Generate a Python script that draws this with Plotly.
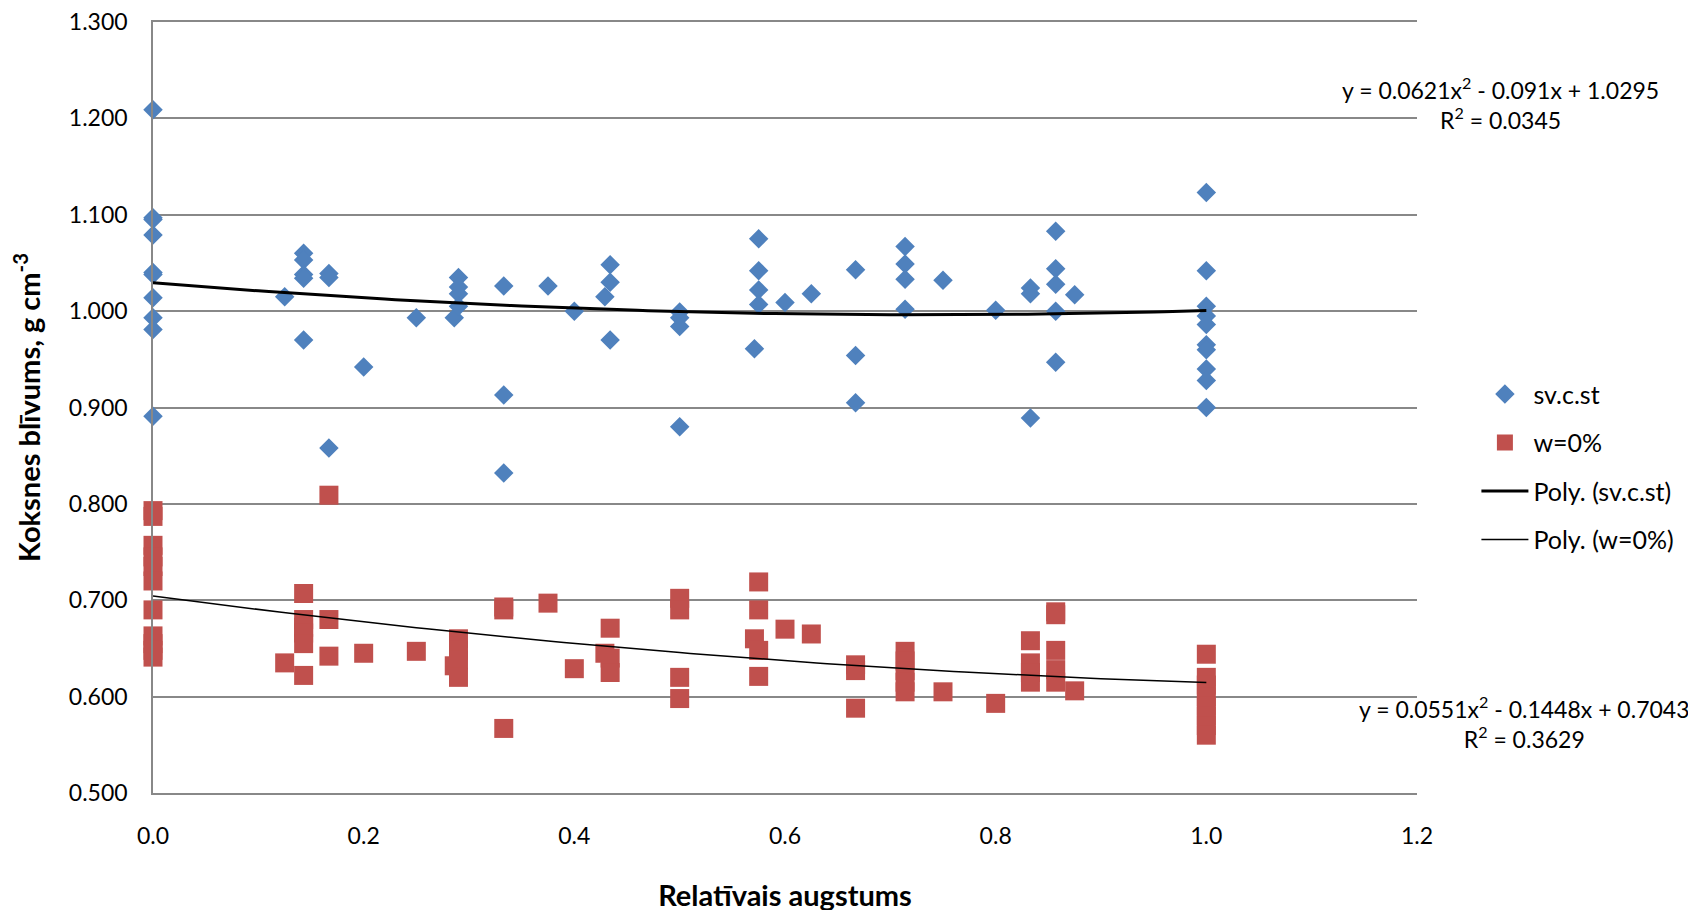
import numpy as np
import plotly.graph_objects as go

# ---- data ----
sv_x = [0, 0, 0, 0, 0, 0, 0, 0, 0, 0,
        0.125,
        0.143, 0.143, 0.143, 0.143, 0.143,
        0.167, 0.167, 0.167,
        0.2, 0.25,
        0.286, 0.29, 0.29, 0.29, 0.29,
        0.333, 0.333, 0.333,
        0.375, 0.4,
        0.429, 0.434, 0.434, 0.434,
        0.5, 0.5, 0.5, 0.5,
        0.571, 0.575, 0.575, 0.575, 0.575,
        0.6, 0.625,
        0.667, 0.667, 0.667,
        0.714, 0.714, 0.714, 0.714,
        0.75, 0.8,
        0.833, 0.833, 0.833,
        0.857, 0.857, 0.857, 0.857, 0.857,
        0.875,
        1.0, 1.0, 1.0, 1.0, 1.0, 1.0, 1.0, 1.0, 1.0, 1.0]
sv_y = [1.209, 1.097, 1.095, 1.079, 1.040, 1.038, 1.014, 0.993, 0.981, 0.891,
        1.015,
        1.060, 1.053, 1.038, 1.034, 0.970,
        1.039, 1.035, 0.858,
        0.942, 0.993,
        0.993, 1.035, 1.025, 1.018, 1.005,
        1.026, 0.913, 0.832,
        1.026, 1.000,
        1.015, 1.048, 1.030, 0.970,
        0.999, 0.993, 0.984, 0.880,
        0.961, 1.075, 1.042, 1.022, 1.007,
        1.009, 1.018,
        1.043, 0.954, 0.905,
        1.067, 1.049, 1.033, 1.002,
        1.032, 1.001,
        1.024, 1.018, 0.889,
        1.083, 1.044, 1.028, 1.000, 0.947,
        1.017,
        1.123, 1.042, 1.005, 0.995, 0.986, 0.965, 0.960, 0.940, 0.928, 0.900]

w_x = [0, 0, 0, 0, 0, 0, 0, 0, 0, 0, 0,
       0.125,
       0.143, 0.143, 0.143, 0.143, 0.143, 0.143,
       0.167, 0.167, 0.167,
       0.2, 0.25,
       0.286, 0.29, 0.29, 0.29, 0.29,
       0.333, 0.333, 0.333,
       0.375, 0.4,
       0.429, 0.434, 0.434, 0.434,
       0.5, 0.5, 0.5, 0.5,
       0.571, 0.575, 0.575, 0.575, 0.575,
       0.6, 0.625,
       0.667, 0.667, 0.667,
       0.714, 0.714, 0.714, 0.714, 0.714,
       0.75, 0.8,
       0.833, 0.833, 0.833, 0.833,
       0.857, 0.857, 0.857, 0.857, 0.857,
       0.875,
       1.0, 1.0, 1.0, 1.0, 1.0, 1.0, 1.0, 1.0]
w_y = [0.793, 0.787, 0.757, 0.745, 0.735, 0.720, 0.690, 0.663, 0.655, 0.648, 0.641,
       0.635,
       0.707, 0.680, 0.672, 0.666, 0.655, 0.622,
       0.809, 0.680, 0.642,
       0.645, 0.647,
       0.632, 0.660, 0.648, 0.638, 0.620,
       0.693, 0.690, 0.567,
       0.697, 0.629,
       0.645, 0.671, 0.640, 0.625,
       0.702, 0.690, 0.620, 0.598,
       0.660, 0.719, 0.690, 0.648, 0.621,
       0.670, 0.665,
       0.633, 0.627, 0.588,
       0.647, 0.637, 0.627, 0.615, 0.605,
       0.605, 0.593,
       0.658, 0.635, 0.625, 0.615,
       0.688, 0.685, 0.648, 0.628, 0.615,
       0.606,
       0.644, 0.620, 0.612, 0.600, 0.590, 0.580, 0.570, 0.560]

# trend-line coefficients shown on the chart (a, b, c for a*x^2 + b*x + c)
sv_coef = [0.0621, -0.091, 1.0295]
w_coef = [0.0551, -0.1448, 0.7043]
sv_eq = "y = 0.0621x<sup>2</sup> - 0.091x + 1.0295<br>R<sup>2</sup> = 0.0345"
w_eq = "y = 0.0551x<sup>2</sup> - 0.1448x + 0.7043<br>R<sup>2</sup> = 0.3629"

x_ticks = [0.0, 0.2, 0.4, 0.6, 0.8, 1.0, 1.2]
y_ticks = [0.5, 0.6, 0.7, 0.8, 0.9, 1.0, 1.1, 1.2, 1.3]

BLUE = "#4F81BD"
RED = "#C0504D"
GRID = "#888888"
FONT = "Lato, 'Open Sans', sans-serif"

tx = np.linspace(0, 1, 101)

fig = go.Figure()
fig.add_trace(go.Scatter(x=sv_x, y=sv_y, mode="markers", name="sv.c.st",
                         marker=dict(symbol="diamond", size=15, color=BLUE, line=dict(width=0)),
                         cliponaxis=False, legendgroup="a"))
fig.add_trace(go.Scatter(x=w_x, y=w_y, mode="markers", name="w=0%",
                         marker=dict(symbol="square", size=19, color=RED, line=dict(width=0)),
                         cliponaxis=False, legendgroup="b"))
fig.add_trace(go.Scatter(x=tx, y=np.polyval(sv_coef, tx), mode="lines", name="Poly. (sv.c.st)",
                         line=dict(color="black", width=3), legendgroup="c"))
fig.add_trace(go.Scatter(x=tx, y=np.polyval(w_coef, tx), mode="lines", name="Poly. (w=0%)",
                         line=dict(color="black", width=1.5), legendgroup="d"))

fig.add_annotation(x=1.066, y=0.894, xref="paper", yref="paper", text=sv_eq,
                   xanchor="center", yanchor="middle",
                   showarrow=False, align="center", font=dict(size=23, color="black", family=FONT))
fig.add_annotation(x=1.085, y=0.091, xref="paper", yref="paper", text=w_eq,
                   xanchor="center", yanchor="middle",
                   showarrow=False, align="center", font=dict(size=23, color="black", family=FONT))

fig.update_layout(
    width=1696, height=910,
    margin=dict(l=145, r=287, t=14, b=125),
    paper_bgcolor="white", plot_bgcolor="white",
    font=dict(family=FONT, color="black", size=23),
    showlegend=True,
    legend=dict(x=1.047, y=0.547, xanchor="left", yanchor="top",
                font=dict(size=25, family=FONT), tracegroupgap=13,
                bgcolor="rgba(0,0,0,0)", itemwidth=47),
    xaxis=dict(range=[0, 1.2], tickvals=x_ticks, tickformat=".1f", automargin=False,
               showgrid=False, zeroline=False, showline=True, mirror=True,
               linecolor=GRID, linewidth=1.5,
               ticks="", ticklabelstandoff=22, tickfont=dict(size=23),
               title=dict(text="<b>Relatīvais augstums</b>", font=dict(size=29), standoff=37)),
    yaxis=dict(range=[0.5, 1.3], tickvals=y_ticks, tickformat=".3f", automargin=False,
               showgrid=True, gridcolor=GRID, gridwidth=1.5, zeroline=False,
               showline=True, linecolor=GRID, linewidth=1.5, ticks="", ticklabelstandoff=19,
               tickfont=dict(size=23), ticklabeloverflow="allow",
               title=dict(text="<b>Koksnes blīvums, g cm<sup>-3</sup></b>", font=dict(size=29), standoff=24)),
)

fig.write_html("out.html")
